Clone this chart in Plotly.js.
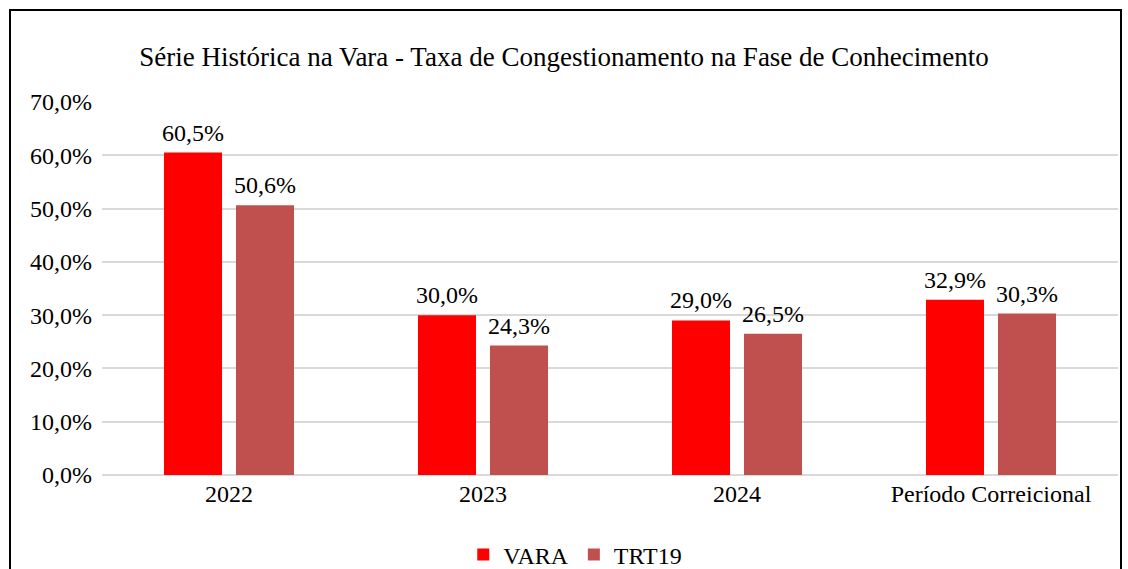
<!DOCTYPE html>
<html>
<head>
<meta charset="utf-8">
<script src="https://cdn.plot.ly/plotly-3.0.1.min.js"></script>
<style>
html,body{margin:0;padding:0;background:#fff;}
#chart{width:1128px;height:569px;position:absolute;left:0;top:0;}
#frame{position:absolute;left:9px;top:9px;width:1109px;height:600px;border:2px solid #000;pointer-events:none;}
</style>
</head>
<body>
<div id="chart"></div>
<div id="frame"></div>
<script>
const categories = ["2022", "2023", "2024", "Período Correicional"];
const vara = [60.5, 30.0, 29.0, 32.9];
const trt19 = [50.6, 24.3, 26.5, 30.3];
const seriesNames = ["VARA", "TRT19"];
const titleText = "Série Histórica na Vara - Taxa de Congestionamento na Fase de Conhecimento";

const font = "Liberation Serif";
const traces = [
  {type:'bar', name:seriesNames[0], x:categories, y:vara, marker:{color:'#ff0000'}},
  {type:'bar', name:seriesNames[1], x:categories, y:trt19, marker:{color:'#c0504d'}}
];
const fmt = v => v.toFixed(1).replace('.', ',') + '%';
const annotations = [];
[vara, trt19].forEach((series, s) => {
  series.forEach((v, i) => {
    annotations.push({x:i, y:v, xref:'x', yref:'y', text:fmt(v), showarrow:false,
      yanchor:'bottom', xanchor:'center', xshift:(s === 0 ? -36 : 36), yshift:5,
      font:{family:font,size:24,color:'#000'}});
  });
});
const layout = {
  width:1128, height:569,
  margin:{l:102, r:10, t:102, b:94},
  paper_bgcolor:'rgba(0,0,0,0)', plot_bgcolor:'#fff',
  separators:',.',
  font:{family:font, size:24, color:'#000'},
  title:{text:titleText, font:{family:font,size:27,color:'#000'}, x:0.5, xanchor:'center', y:0.9, yanchor:'middle', yref:'container'},
  barmode:'group', bargap:0.433, bargroupgap:0.194,
  showlegend:true,
  legend:{orientation:'h', x:0.51, xref:'container', xanchor:'center', y:0.025, yref:'container', yanchor:'middle', font:{family:font,size:24,color:'#000'}, itemwidth:30, traceorder:'normal'},
  xaxis:{type:'category', categoryarray:categories, categoryorder:'array', showgrid:false, zeroline:false, showline:false, ticks:'', ticklabelstandoff:2, tickfont:{family:font,size:24,color:'#000'}},
  yaxis:{range:[0,70], dtick:10, tickformat:'.1f', ticksuffix:'%', showgrid:true, gridcolor:'#d9d9d9', gridwidth:2,
         zeroline:true, zerolinecolor:'#d9d9d9', zerolinewidth:2, showline:false, ticks:'', ticklabelstandoff:9,
         tickfont:{family:font,size:24,color:'#000'}},
  annotations: annotations
};
Plotly.newPlot('chart', traces, layout, {displayModeBar:false, staticPlot:true});
</script>
</body>
</html>
